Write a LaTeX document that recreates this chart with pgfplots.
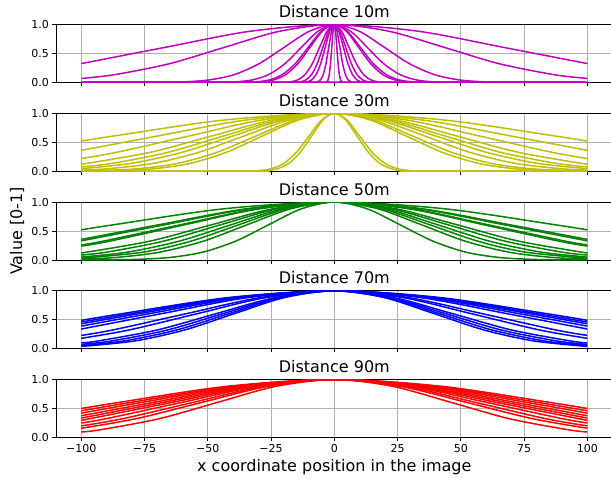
\documentclass[border=0pt]{standalone}
\usepackage{fontspec}
\setmainfont{DejaVu Sans}
\usepackage{pgfplots}
\pgfplotsset{compat=1.18}
\definecolor{cM}{RGB}{191,0,191}
\definecolor{cY}{RGB}{191,191,0}
\definecolor{cG}{RGB}{0,128,0}
\definecolor{cB}{RGB}{0,0,255}
\definecolor{cR}{RGB}{255,0,0}
\definecolor{gridgray}{RGB}{176,176,176}
\pgfplotsset{
 panel/.style={
  scale only axis, width=556.6pt, height=58pt,
  xmin=-110, xmax=110, ymin=0, ymax=1,
  xtick={-100,-75,-50,-25,0,25,50,75,100},
  ytick={0,0.5,1}, yticklabels={0.0,0.5,1.0},
  xticklabels={},
  tick pos=left, tick align=outside, major tick length=3.5pt,
  grid=major, grid style={gridgray, line width=0.8pt},
  axis line style={line width=0.8pt},
  tick style={black, line width=0.8pt},
  ticklabel style={font=\fontsize{11}{13}\selectfont},
  title style={font=\fontsize{16}{19}\selectfont, at={(0.5,1)}, anchor=base, yshift=1pt},
  every axis plot/.append style={smooth, line width=1.5pt, mark=none},
  anchor=north west,
 }
}
\begin{document}
\begin{tikzpicture}
% ---------------- Distance 10m
\begin{axis}[panel, at={(0pt,0pt)}, title={Distance 10m}]
\addplot[cM] coordinates {(-100,0.326) (-66.8,0.6065) (-33.4,0.8825) (0,1) (33.4,0.8825) (66.8,0.6065) (100,0.326)};
\addplot[cM] coordinates {(-100,0.07) (-86.8,0.1353) (-65.1,0.3247) (-43.4,0.6065) (-21.7,0.8825) (0,1) (21.7,0.8825) (43.4,0.6065) (65.1,0.3247) (86.8,0.1353) (100,0.07)};
\addplot[cM] coordinates {(-100,0) (-69.3,0.0022) (-59.4,0.0111) (-49.5,0.0439) (-39.6,0.1353) (-29.7,0.3247) (-19.8,0.6065) (-9.9,0.8825) (0,1) (9.9,0.8825) (19.8,0.6065) (29.7,0.3247) (39.6,0.1353) (49.5,0.0439) (59.4,0.0111) (69.3,0.0022) (100,0)};
\addplot[cM] coordinates {(-100,0) (-45.5,0.0022) (-39,0.0111) (-32.5,0.0439) (-26,0.1353) (-19.5,0.3247) (-13,0.6065) (-6.5,0.8825) (0,1) (6.5,0.8825) (13,0.6065) (19.5,0.3247) (26,0.1353) (32.5,0.0439) (39,0.0111) (45.5,0.0022) (100,0)};
\addplot[cM] coordinates {(-100,0) (-36.05,0.0022) (-30.9,0.0111) (-25.75,0.0439) (-20.6,0.1353) (-15.45,0.3247) (-10.3,0.6065) (-5.15,0.8825) (0,1) (5.15,0.8825) (10.3,0.6065) (15.45,0.3247) (20.6,0.1353) (25.75,0.0439) (30.9,0.0111) (36.05,0.0022) (100,0)};
\addplot[cM] coordinates {(-100,0) (-33.6,0.0022) (-28.8,0.0111) (-24,0.0439) (-19.2,0.1353) (-14.4,0.3247) (-9.6,0.6065) (-4.8,0.8825) (0,1) (4.8,0.8825) (9.6,0.6065) (14.4,0.3247) (19.2,0.1353) (24,0.0439) (28.8,0.0111) (33.6,0.0022) (100,0)};
\addplot[cM] coordinates {(-100,0) (-20.3,0.0022) (-17.4,0.0111) (-14.5,0.0439) (-11.6,0.1353) (-8.7,0.3247) (-5.8,0.6065) (-2.9,0.8825) (0,1) (2.9,0.8825) (5.8,0.6065) (8.7,0.3247) (11.6,0.1353) (14.5,0.0439) (17.4,0.0111) (20.3,0.0022) (100,0)};
\addplot[cM] coordinates {(-100,0) (-15.75,0.0022) (-13.5,0.0111) (-11.25,0.0439) (-9,0.1353) (-6.75,0.3247) (-4.5,0.6065) (-2.25,0.8825) (0,1) (2.25,0.8825) (4.5,0.6065) (6.75,0.3247) (9,0.1353) (11.25,0.0439) (13.5,0.0111) (15.75,0.0022) (100,0)};
\addplot[cM] coordinates {(-100,0) (-12.6,0.0022) (-10.8,0.0111) (-9,0.0439) (-7.2,0.1353) (-5.4,0.3247) (-3.6,0.6065) (-1.8,0.8825) (0,1) (1.8,0.8825) (3.6,0.6065) (5.4,0.3247) (7.2,0.1353) (9,0.0439) (10.8,0.0111) (12.6,0.0022) (100,0)};
\addplot[cM] coordinates {(-100,0) (-7.7,0.0022) (-6.6,0.0111) (-5.5,0.0439) (-4.4,0.1353) (-3.3,0.3247) (-2.2,0.6065) (-1.1,0.8825) (0,1) (1.1,0.8825) (2.2,0.6065) (3.3,0.3247) (4.4,0.1353) (5.5,0.0439) (6.6,0.0111) (7.7,0.0022) (100,0)};
\addplot[cM] coordinates {(-100,0) (-3.5,0.0022) (-3,0.0111) (-2.5,0.0439) (-2,0.1353) (-1.5,0.3247) (-1,0.6065) (-0.5,0.8825) (0,1) (0.5,0.8825) (1,0.6065) (1.5,0.3247) (2,0.1353) (2.5,0.0439) (3,0.0111) (3.5,0.0022) (100,0)};
\end{axis}
% ---------------- Distance 30m
\begin{axis}[panel, at={(0pt,-88.75pt)}, title={Distance 30m}]
\addplot[cY] coordinates {(-100,0.52) (-87.4,0.6065) (-43.7,0.8825) (0,1) (43.7,0.8825) (87.4,0.6065) (100,0.52)};
\addplot[cY] coordinates {(-100,0.36) (-70,0.6065) (-35,0.8825) (0,1) (35,0.8825) (70,0.6065) (100,0.36)};
\addplot[cY] coordinates {(-100,0.22) (-86.25,0.3247) (-57.5,0.6065) (-28.75,0.8825) (0,1) (28.75,0.8825) (57.5,0.6065) (86.25,0.3247) (100,0.22)};
\addplot[cY] coordinates {(-100,0.12) (-72.9,0.3247) (-48.6,0.6065) (-24.3,0.8825) (0,1) (24.3,0.8825) (48.6,0.6065) (72.9,0.3247) (100,0.12)};
\addplot[cY] coordinates {(-100,0.075) (-87.8,0.1353) (-65.85,0.3247) (-43.9,0.6065) (-21.95,0.8825) (0,1) (21.95,0.8825) (43.9,0.6065) (65.85,0.3247) (87.8,0.1353) (100,0.075)};
\addplot[cY] coordinates {(-100,0.045) (-80.4,0.1353) (-60.3,0.3247) (-40.2,0.6065) (-20.1,0.8825) (0,1) (20.1,0.8825) (40.2,0.6065) (60.3,0.3247) (80.4,0.1353) (100,0.045)};
\addplot[cY] coordinates {(-100,0.02) (-89.5,0.0439) (-71.6,0.1353) (-53.7,0.3247) (-35.8,0.6065) (-17.9,0.8825) (0,1) (17.9,0.8825) (35.8,0.6065) (53.7,0.3247) (71.6,0.1353) (89.5,0.0439) (100,0.02)};
\addplot[cY] coordinates {(-100,0.0055) (-93,0.0111) (-77.5,0.0439) (-62,0.1353) (-46.5,0.3247) (-31,0.6065) (-15.5,0.8825) (0,1) (15.5,0.8825) (31,0.6065) (46.5,0.3247) (62,0.1353) (77.5,0.0439) (93,0.0111) (100,0.0055)};
\addplot[cY] coordinates {(-100,0.002) (-85.5,0.0111) (-71.25,0.0439) (-57,0.1353) (-42.75,0.3247) (-28.5,0.6065) (-14.25,0.8825) (0,1) (14.25,0.8825) (28.5,0.6065) (42.75,0.3247) (57,0.1353) (71.25,0.0439) (85.5,0.0111) (100,0.002)};
\addplot[cY] coordinates {(-100,0) (-35,0.0022) (-30,0.0111) (-25,0.0439) (-20,0.1353) (-15,0.3247) (-10,0.6065) (-5,0.8825) (0,1) (5,0.8825) (10,0.6065) (15,0.3247) (20,0.1353) (25,0.0439) (30,0.0111) (35,0.0022) (100,0)};
\addplot[cY] coordinates {(-100,0) (-31.5,0.0022) (-27,0.0111) (-22.5,0.0439) (-18,0.1353) (-13.5,0.3247) (-9,0.6065) (-4.5,0.8825) (0,1) (4.5,0.8825) (9,0.6065) (13.5,0.3247) (18,0.1353) (22.5,0.0439) (27,0.0111) (31.5,0.0022) (100,0)};
\end{axis}
% ---------------- Distance 50m
\begin{axis}[panel, at={(0pt,-177.5pt)}, title={Distance 50m}]
\addplot[cG] coordinates {(-100,0.52) (-87.4,0.6065) (-43.7,0.8825) (0,1) (43.7,0.8825) (87.4,0.6065) (100,0.52)};
\addplot[cG] coordinates {(-100,0.355) (-69.5,0.6065) (-34.75,0.8825) (0,1) (34.75,0.8825) (69.5,0.6065) (100,0.355)};
\addplot[cG] coordinates {(-100,0.33) (-67.2,0.6065) (-33.6,0.8825) (0,1) (33.6,0.8825) (67.2,0.6065) (100,0.33)};
\addplot[cG] coordinates {(-100,0.26) (-91.35,0.3247) (-60.9,0.6065) (-30.45,0.8825) (0,1) (30.45,0.8825) (60.9,0.6065) (91.35,0.3247) (100,0.26)};
\addplot[cG] coordinates {(-100,0.24) (-88.8,0.3247) (-59.2,0.6065) (-29.6,0.8825) (0,1) (29.6,0.8825) (59.2,0.6065) (88.8,0.3247) (100,0.24)};
\addplot[cG] coordinates {(-100,0.12) (-72.9,0.3247) (-48.6,0.6065) (-24.3,0.8825) (0,1) (24.3,0.8825) (48.6,0.6065) (72.9,0.3247) (100,0.12)};
\addplot[cG] coordinates {(-100,0.085) (-90,0.1353) (-67.5,0.3247) (-45,0.6065) (-22.5,0.8825) (0,1) (22.5,0.8825) (45,0.6065) (67.5,0.3247) (90,0.1353) (100,0.085)};
\addplot[cG] coordinates {(-100,0.05) (-81.8,0.1353) (-61.35,0.3247) (-40.9,0.6065) (-20.45,0.8825) (0,1) (20.45,0.8825) (40.9,0.6065) (61.35,0.3247) (81.8,0.1353) (100,0.05)};
\addplot[cG] coordinates {(-100,0.03) (-75.6,0.1353) (-56.7,0.3247) (-37.8,0.6065) (-18.9,0.8825) (0,1) (18.9,0.8825) (37.8,0.6065) (56.7,0.3247) (75.6,0.1353) (100,0.03)};
\addplot[cG] coordinates {(-100,0.015) (-86.25,0.0439) (-69,0.1353) (-51.75,0.3247) (-34.5,0.6065) (-17.25,0.8825) (0,1) (17.25,0.8825) (34.5,0.6065) (51.75,0.3247) (69,0.1353) (86.25,0.0439) (100,0.015)};
\addplot[cG] coordinates {(-100,0) (-91,0.0022) (-78,0.0111) (-65,0.0439) (-52,0.1353) (-39,0.3247) (-26,0.6065) (-13,0.8825) (0,1) (13,0.8825) (26,0.6065) (39,0.3247) (52,0.1353) (65,0.0439) (78,0.0111) (91,0.0022) (100,0)};
\end{axis}
% ---------------- Distance 70m
\begin{axis}[panel, at={(0pt,-266.25pt)}, title={Distance 70m}]
\addplot[cB] coordinates {(-100,0.49) (-83.7,0.6065) (-41.85,0.8825) (0,1) (41.85,0.8825) (83.7,0.6065) (100,0.49)};
\addplot[cB] coordinates {(-100,0.46) (-80.2,0.6065) (-40.1,0.8825) (0,1) (40.1,0.8825) (80.2,0.6065) (100,0.46)};
\addplot[cB] coordinates {(-100,0.43) (-77,0.6065) (-38.5,0.8825) (0,1) (38.5,0.8825) (77,0.6065) (100,0.43)};
\addplot[cB] coordinates {(-100,0.39) (-72.9,0.6065) (-36.45,0.8825) (0,1) (36.45,0.8825) (72.9,0.6065) (100,0.39)};
\addplot[cB] coordinates {(-100,0.34) (-68.1,0.6065) (-34.05,0.8825) (0,1) (34.05,0.8825) (68.1,0.6065) (100,0.34)};
\addplot[cB] coordinates {(-100,0.23) (-87.45,0.3247) (-58.3,0.6065) (-29.15,0.8825) (0,1) (29.15,0.8825) (58.3,0.6065) (87.45,0.3247) (100,0.23)};
\addplot[cB] coordinates {(-100,0.18) (-81,0.3247) (-54,0.6065) (-27,0.8825) (0,1) (27,0.8825) (54,0.6065) (81,0.3247) (100,0.18)};
\addplot[cB] coordinates {(-100,0.10) (-93.2,0.1353) (-69.9,0.3247) (-46.6,0.6065) (-23.3,0.8825) (0,1) (23.3,0.8825) (46.6,0.6065) (69.9,0.3247) (93.2,0.1353) (100,0.10)};
\addplot[cB] coordinates {(-100,0.075) (-87.8,0.1353) (-65.85,0.3247) (-43.9,0.6065) (-21.95,0.8825) (0,1) (21.95,0.8825) (43.9,0.6065) (65.85,0.3247) (87.8,0.1353) (100,0.075)};
\addplot[cB] coordinates {(-100,0.055) (-83,0.1353) (-62.25,0.3247) (-41.5,0.6065) (-20.75,0.8825) (0,1) (20.75,0.8825) (41.5,0.6065) (62.25,0.3247) (83,0.1353) (100,0.055)};
\addplot[cB] coordinates {(-100,0.04) (-78.8,0.1353) (-59.1,0.3247) (-39.4,0.6065) (-19.7,0.8825) (0,1) (19.7,0.8825) (39.4,0.6065) (59.1,0.3247) (78.8,0.1353) (100,0.04)};
\end{axis}
% ---------------- Distance 90m
\begin{axis}[panel, at={(0pt,-355pt)}, title={Distance 90m},
  xticklabels={−100,−75,−50,−25,0,25,50,75,100}]
\addplot[cR] coordinates {(-100,0.50) (-84.9,0.6065) (-42.45,0.8825) (0,1) (42.45,0.8825) (84.9,0.6065) (100,0.50)};
\addplot[cR] coordinates {(-100,0.46) (-80.2,0.6065) (-40.1,0.8825) (0,1) (40.1,0.8825) (80.2,0.6065) (100,0.46)};
\addplot[cR] coordinates {(-100,0.42) (-75.9,0.6065) (-37.95,0.8825) (0,1) (37.95,0.8825) (75.9,0.6065) (100,0.42)};
\addplot[cR] coordinates {(-100,0.375) (-71.4,0.6065) (-35.7,0.8825) (0,1) (35.7,0.8825) (71.4,0.6065) (100,0.375)};
\addplot[cR] coordinates {(-100,0.335) (-67.6,0.6065) (-33.8,0.8825) (0,1) (33.8,0.8825) (67.6,0.6065) (100,0.335)};
\addplot[cR] coordinates {(-100,0.295) (-64,0.6065) (-32,0.8825) (0,1) (32,0.8825) (64,0.6065) (100,0.295)};
\addplot[cR] coordinates {(-100,0.25) (-90.15,0.3247) (-60.1,0.6065) (-30.05,0.8825) (0,1) (30.05,0.8825) (60.1,0.6065) (90.15,0.3247) (100,0.25)};
\addplot[cR] coordinates {(-100,0.20) (-83.55,0.3247) (-55.7,0.6065) (-27.85,0.8825) (0,1) (27.85,0.8825) (55.7,0.6065) (83.55,0.3247) (100,0.20)};
\addplot[cR] coordinates {(-100,0.16) (-78.3,0.3247) (-52.2,0.6065) (-26.1,0.8825) (0,1) (26.1,0.8825) (52.2,0.6065) (78.3,0.3247) (100,0.16)};
\addplot[cR] coordinates {(-100,0.095) (-92.2,0.1353) (-69.15,0.3247) (-46.1,0.6065) (-23.05,0.8825) (0,1) (23.05,0.8825) (46.1,0.6065) (69.15,0.3247) (92.2,0.1353) (100,0.095)};
\end{axis}
\node[rotate=90, font=\fontsize{16}{19}\selectfont] at (-39pt,-206.5pt) {Value [0-1]};
\node[anchor=base, font=\fontsize{16}{19}\selectfont] at (278.3pt,-446.5pt) {x coordinate position in the image};
\pgfresetboundingbox
\path[use as bounding box] (-56pt,24.5pt) rectangle (555pt,-454.5pt);
\end{tikzpicture}
\end{document}
